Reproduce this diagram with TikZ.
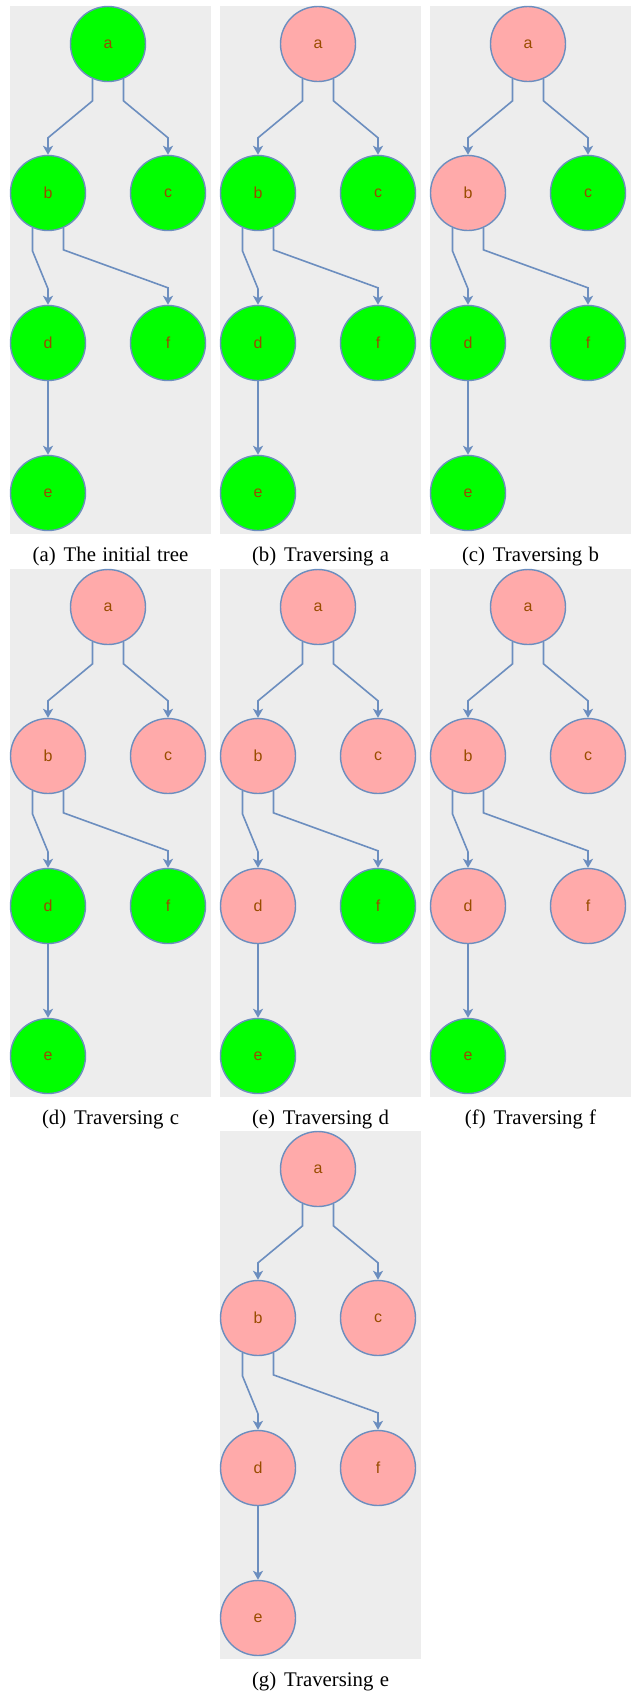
\documentclass[tikz,border=0pt]{standalone}
\usepackage{fontspec}
\setmainfont{Liberation Serif}
\newfontfamily\labelfont{Liberation Sans}
\usepackage{xcolor}
\usetikzlibrary{arrows.meta, positioning, calc}

\definecolor{panelbg}{HTML}{EDEDED}
\definecolor{fresh}{HTML}{00FF00}
\definecolor{visited}{HTML}{FFAAAA}
\definecolor{linkblue}{HTML}{6C8EBF}
\definecolor{labelbrown}{HTML}{994C00}

\begin{document}
\begin{tikzpicture}[x=0.5pt, y=-0.5pt,
treenode/.style={draw=linkblue, 
line width=0.7pt, 
circle, 
minimum size=37.5pt, 
inner sep=0pt, 
text=labelbrown, 
font=\labelfont\fontsize{8}{9}\selectfont}, 
arrow/.style={-{Stealth[length=4.5pt, width=5pt, inset=1.2pt]}, draw=linkblue, line width=0.8pt}, 
caption/.style={anchor=base, font=\fontsize{10.4}{12}\selectfont}
]
\useasboundingbox (0,0) rectangle (631,1693);

\foreach \px/\py/\subtag/\captext/\done in {10/6/a/The initial tree/0, 220/6/b/Traversing a/1, 430/6/c/Traversing b/2, 10/569/d/Traversing c/3, 220/569/e/Traversing d/4, 430/569/f/Traversing f/5, 220/1131/g/Traversing e/6} {
\begin{scope}[shift={(\px,\py)}]
\fill[panelbg] (0,0) rectangle (201,528);
\foreach \n/\nx/\ny/\rank in {a/98/38/1, b/38/187/2, c/158/187/3, d/38/337/4, f/158/337/5, e/38/487/6} {
\ifnum\rank>\done\relax \def\nodecol{fresh}\else\def\nodecol{visited}\fi
\node[treenode, fill=\nodecol] (\n) at (\nx,\ny) {\n};
}

\draw[arrow] (a.-114) -- ++(0,22) -- ($(b.north)+(0,-17)$) -- (b); 
\draw[arrow] (a.-66) -- ++(0,22) -- ($(c.north)+(0,-17)$) -- (c); 
\draw[arrow] (b.-114) -- ++(0,23) -- ($(d.north)+(0,-16)$) -- (d); 
\draw[arrow] (b.-66) -- ++(0,22) -- ($(f.north)+(0,-17)$) -- (f); 
\draw[arrow] (d) -- (e);

\node[caption] (cap) at (100.5,555) {\spaceskip=0.3em\relax(\subtag)\hspace{0.38em}\captext};
\end{scope}
}

\end{tikzpicture}
\end{document}
